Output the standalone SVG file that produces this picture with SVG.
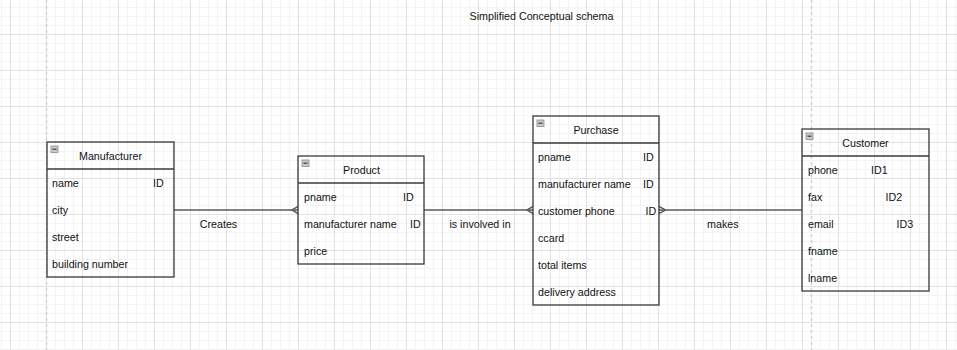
<svg xmlns="http://www.w3.org/2000/svg" width="957" height="350" viewBox="0 0 957 350">
  <defs>
    <pattern id="grid" patternUnits="userSpaceOnUse" x="10" y="-2" width="36" height="36">
      <g stroke="#f3f3f3" stroke-width="1">
        <line x1="9.5" y1="0" x2="9.5" y2="36"/>
        <line x1="18.5" y1="0" x2="18.5" y2="36"/>
        <line x1="27.5" y1="0" x2="27.5" y2="36"/>
        <line x1="0" y1="9.5" x2="36" y2="9.5"/>
        <line x1="0" y1="18.5" x2="36" y2="18.5"/>
        <line x1="0" y1="27.5" x2="36" y2="27.5"/>
      </g>
      <g stroke="#e2e2e2" stroke-width="1">
        <line x1="0.5" y1="0" x2="0.5" y2="36"/>
        <line x1="0" y1="0.5" x2="36" y2="0.5"/>
      </g>
    </pattern>
    <g id="collapse">
      <rect x="0" y="0" width="7" height="6.5" fill="#c9c9c9" stroke="#8a8a8a" stroke-width="0.8"/>
      <line x1="1.5" y1="3.2" x2="5.5" y2="3.2" stroke="#3c3c3c" stroke-width="1.2"/>
    </g>
  </defs>
  <style>
    text { font-family: "Liberation Sans", Arial, sans-serif; font-size: 10.7px; fill: #111; }
    .title { text-anchor: middle; }
    .box { fill: none; stroke: #3a3a3a; stroke-width: 1.3; }
    .sep { stroke: #3a3a3a; stroke-width: 1.3; }
    .edge { fill: none; stroke: #5a5a5a; stroke-width: 1.5; }
    .lbl { text-anchor: middle; }
    .page { stroke: #d2d2d2; stroke-width: 1.5; stroke-dasharray: 3 3; }
  </style>

  <!-- background grid -->
  <rect width="957" height="350" fill="#ffffff"/>
  <rect width="957" height="350" fill="url(#grid)"/>
  <line class="page" x1="46.5" y1="0" x2="46.5" y2="350"/>
  <line class="page" x1="811.5" y1="0" x2="811.5" y2="350"/>

  <text class="title" x="541.5" y="20">Simplified Conceptual schema</text>

  <!-- relationships -->
  <g id="connectors">
    <g id="creates">
      <line class="edge" x1="174" y1="210" x2="298" y2="210"/>
      <polyline class="edge" points="298,206.3 292,210 298,213.7"/>
      <text class="lbl" x="218.5" y="228">Creates</text>
    </g>
    <g id="involved">
      <line class="edge" x1="424" y1="210" x2="533" y2="210"/>
      <polyline class="edge" points="533,206.3 527,210 533,213.7"/>
      <text class="lbl" x="480" y="228">is involved in</text>
    </g>
    <g id="makes">
      <line class="edge" x1="659" y1="210" x2="802" y2="210"/>
      <polyline class="edge" points="659,206.3 665.5,210 659,213.7"/>
      <text class="lbl" x="722.8" y="228">makes</text>
    </g>
  </g>

  <!-- entities -->
  <g id="manufacturer">
    <rect class="box" x="47" y="142" width="127" height="135"/>
    <line class="sep" x1="47" y1="169" x2="174" y2="169"/>
    <use href="#collapse" x="51" y="146"/>
    <text class="title" x="110.5" y="160">Manufacturer</text>
    <text x="52" y="186.5">name</text>
    <text x="153" y="186.5">ID</text>
    <text x="52" y="213.5">city</text>
    <text x="52" y="240.5">street</text>
    <text x="52" y="267.5">building number</text>
  </g>

  <g id="product">
    <rect class="box" x="298" y="156" width="126" height="108"/>
    <line class="sep" x1="298" y1="183" x2="424" y2="183"/>
    <use href="#collapse" x="302" y="160"/>
    <text class="title" x="361.5" y="174">Product</text>
    <text x="304" y="200.5">pname</text>
    <text x="403" y="200.5">ID</text>
    <text x="304" y="227.5">manufacturer name</text>
    <text x="410" y="227.5">ID</text>
    <text x="304" y="254.5">price</text>
  </g>

  <g id="purchase">
    <rect class="box" x="533" y="116" width="126" height="189"/>
    <line class="sep" x1="533" y1="143" x2="659" y2="143"/>
    <use href="#collapse" x="537" y="120"/>
    <text class="title" x="596" y="134">Purchase</text>
    <text x="538" y="160.5">pname</text>
    <text x="643" y="160.5">ID</text>
    <text x="538" y="187.5">manufacturer name</text>
    <text x="643" y="187.5">ID</text>
    <text x="538" y="214.5">customer phone</text>
    <text x="645.5" y="214.5">ID</text>
    <text x="538" y="241.5">ccard</text>
    <text x="538" y="268.5">total items</text>
    <text x="538" y="295.5">delivery address</text>
  </g>

  <g id="customer">
    <rect class="box" x="802" y="129" width="127" height="162"/>
    <line class="sep" x1="802" y1="156" x2="929" y2="156"/>
    <use href="#collapse" x="806" y="133"/>
    <text class="title" x="865.5" y="147">Customer</text>
    <text x="808" y="173.5">phone</text>
    <text x="871" y="173.5">ID1</text>
    <text x="808" y="200.5">fax</text>
    <text x="885.5" y="200.5">ID2</text>
    <text x="808" y="227.5">email</text>
    <text x="896.5" y="227.5">ID3</text>
    <text x="808" y="254.5">fname</text>
    <text x="808" y="281.5">lname</text>
  </g>
</svg>
